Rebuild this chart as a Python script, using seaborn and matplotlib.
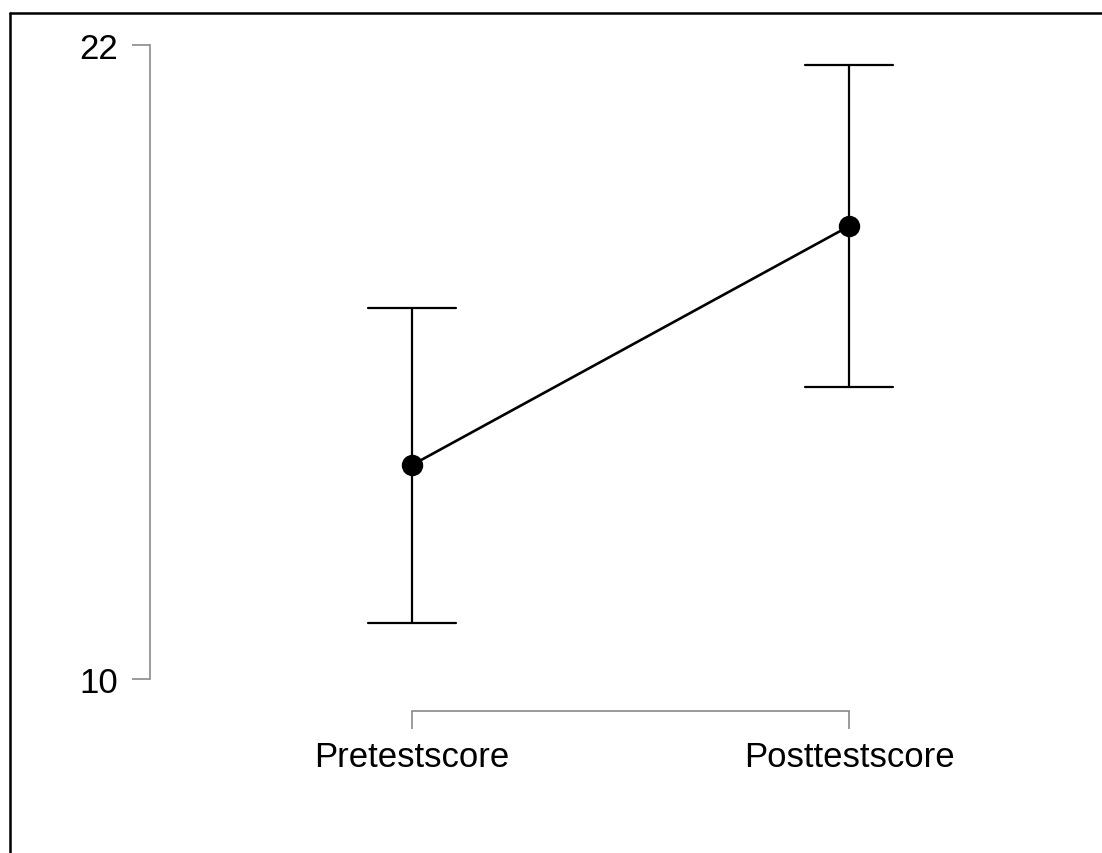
import pandas as pd
import matplotlib.pyplot as plt
from matplotlib.lines import Line2D
import seaborn as sns

# summary values (mean with lower / upper CI bounds)
conditions = ["Pretestscore", "Posttestscore"]
means = [14.05, 18.57]
lower = [11.06, 15.53]
upper = [17.02, 21.62]
y_ticks = [10, 22]

# three rows per condition: median = mean, full range = CI
rows = []
for c, lo, m, hi in zip(conditions, lower, means, upper):
    for v in (lo, m, hi):
        rows.append({"condition": c, "score": v})
df = pd.DataFrame(rows)

sns.set_style("white")
plt.rcParams["font.family"] = ["Liberation Sans", "DejaVu Sans"]

fig = plt.figure(figsize=(11.02, 8.54), dpi=100)
W, H = 1102, 854
ax = fig.add_axes([150 / W, 142 / H, 850 / W, (712 - 30) / H])

sns.pointplot(data=df, x="condition", y="score", order=conditions,
              estimator="median", errorbar=("pi", 100),
              color="black", capsize=0.2, linewidth=1.9,
              err_kws={"linewidth": 1.6}, markersize=14, ax=ax)

# axis ranges so the spines sit where they do in the reference
ax.set_xlim(-262 / 437, 588 / 437)
ax.set_ylim(10 - 32 / 52.83, 22 + 16 / 52.83)
ax.set_yticks(y_ticks)
ax.set_xlabel("")
ax.set_ylabel("")

for s in ["top", "right"]:
    ax.spines[s].set_visible(False)
ax.spines["left"].set_bounds(10, 22)
ax.spines["bottom"].set_bounds(0, 1)
for s in ["left", "bottom"]:
    ax.spines[s].set_color("#8a8a8a")
    ax.spines[s].set_linewidth(1.2)
ax.tick_params(axis="both", length=13, width=1.2, color="#8a8a8a",
               labelsize=25, labelcolor="black", pad=8, left=True, bottom=True)
ax.tick_params(axis="y", pad=10)

# frame lines at the top and left of the image
fig.add_artist(Line2D([10 / W, 1], [1 - 14 / H, 1 - 14 / H], color="black", linewidth=1.8))
fig.add_artist(Line2D([10 / W, 10 / W], [0, 1 - 14 / H], color="black", linewidth=1.8))

fig.savefig("out.png", dpi=100)
